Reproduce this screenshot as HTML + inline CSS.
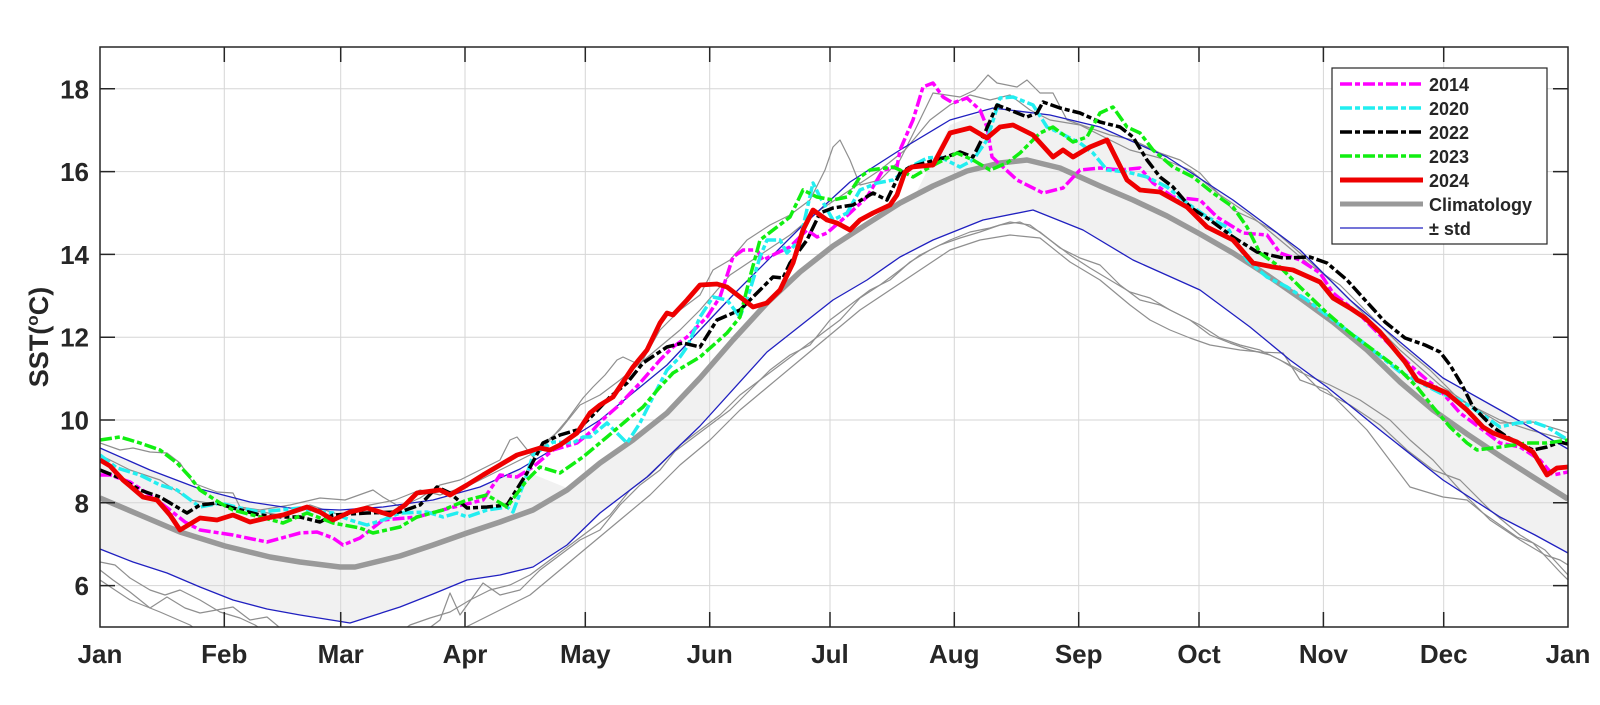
<!DOCTYPE html>
<html><head><meta charset="utf-8"><style>
html,body{margin:0;padding:0;background:#fff;}
svg{display:block;}
text{font-family:"Liberation Sans",Arial,sans-serif;font-weight:bold;fill:#262626;}
</style></head><body>
<svg width="1600" height="705" viewBox="0 0 1600 705" xmlns="http://www.w3.org/2000/svg">
<defs><clipPath id="pa"><rect x="100" y="47" width="1468" height="580"/></clipPath></defs>
<rect width="1600" height="705" fill="#fff"/>
<g clip-path="url(#pa)">
<polygon fill="#f1f1f1" points="100,549 133,562 167,573 200,587 233,600 267,609 300,615 350,623 400,607 433,594 467,580 500,575 533,567 567,545 600,513 647,477 700,426 767,352 833,300 867,280 900,257 933,240 983,220 1033,210 1083,230 1133,260 1200,290 1250,327 1290,360 1327,387 1380,430 1443,480 1500,517 1535,535 1568,553 1568,449 1535,430 1500,410 1443,378 1400,342 1350,300 1300,250 1233,200 1167,157 1100,127 1050,115 993,108 950,125 915,195 900,203 867,224 833,246 800,272 767,303 733,340 700,378 667,413 633,440 600,463 567,488 520,469 480,487 433,500 383,507 340,510 290,508 250,502 200,489 150,470 100,448"/>
<g stroke="#d6d6d6" stroke-width="1" fill="none">
<line x1="224.3" y1="47" x2="224.3" y2="627"/><line x1="340.7" y1="47" x2="340.7" y2="627"/><line x1="465" y1="47" x2="465" y2="627"/><line x1="585.3" y1="47" x2="585.3" y2="627"/><line x1="709.7" y1="47" x2="709.7" y2="627"/><line x1="830" y1="47" x2="830" y2="627"/><line x1="954.3" y1="47" x2="954.3" y2="627"/><line x1="1078.7" y1="47" x2="1078.7" y2="627"/><line x1="1199" y1="47" x2="1199" y2="627"/><line x1="1323.4" y1="47" x2="1323.4" y2="627"/><line x1="1443.7" y1="47" x2="1443.7" y2="627"/>
<line x1="100" y1="88.8" x2="1568" y2="88.8"/><line x1="100" y1="171.6" x2="1568" y2="171.6"/><line x1="100" y1="254.4" x2="1568" y2="254.4"/><line x1="100" y1="337.2" x2="1568" y2="337.2"/><line x1="100" y1="420" x2="1568" y2="420"/><line x1="100" y1="502.8" x2="1568" y2="502.8"/><line x1="100" y1="585.6" x2="1568" y2="585.6"/>
</g>
<g stroke="#8f8f8f" stroke-width="1.2" fill="none" stroke-linejoin="round">
<polyline points="100,443 120,450 133,448 150,452 167,453 180,463 193,483 217,492 233,493 240,507 260,510 290,505 320,498 345,500 373,490 383,497 400,507 420,498 440,485 460,480 480,470 500,460 510,440 517,437 533,457 550,440 567,420 583,398 593,387 605,375 617,360 623,357 640,365 660,330 680,310 700,295 713,270 730,260 747,240 770,225 790,215 810,200 825,170 833,147 840,140 850,160 860,185 880,180 900,160 915,130 933,93 960,97 975,90 988,75 997,83 1017,87 1027,80 1040,93 1053,93 1067,120 1087,127 1110,135 1133,140 1160,153 1180,160 1200,173 1233,210 1255,220 1277,233 1300,253 1330,280 1360,310 1400,350 1440,385 1470,405 1500,423 1533,422 1560,430 1568,433"/>
<polyline points="100,455 130,470 160,480 190,500 220,505 250,510 280,515 310,505 340,515 370,505 395,500 420,490 440,495 470,485 500,470 530,455 560,430 580,405 600,395 620,380 650,355 680,330 700,310 730,275 760,255 790,235 820,210 850,190 880,170 905,150 930,120 950,105 970,95 990,100 1010,95 1030,110 1050,120 1080,125 1100,135 1130,150 1160,158 1190,170 1220,195 1250,215 1280,240 1310,265 1340,285 1370,315 1400,345 1430,370 1460,400 1500,420 1530,430 1568,440"/>
<polyline points="100,562 115,565 130,578 150,590 165,595 180,590 200,600 220,612 240,618 255,625 270,635 390,640 410,625 430,618 450,612 470,600 490,590 510,585 530,575 550,560 570,545 590,530 610,515 630,490 650,475 670,455 690,440 710,425 730,410 750,390 770,370 790,355 810,345 830,320 850,305 870,290 890,280 910,262 930,250 950,240 970,232 990,228 1010,222 1030,225 1050,240 1070,255 1090,268 1110,280 1130,292 1150,298 1170,310 1190,320 1210,335 1230,343 1250,350 1270,355 1300,370 1320,390 1350,405 1380,425 1407,450 1433,470 1460,480 1490,510 1520,535 1545,550 1568,575"/>
<polyline points="100,570 113,580 130,592 150,608 167,597 185,608 200,613 233,607 250,620 267,617 285,632 420,635 440,620 450,593 460,615 483,583 500,595 520,590 540,570 560,555 580,540 600,530 620,505 640,485 660,470 680,445 700,430 720,415 740,395 760,380 780,365 800,350 820,335 840,320 860,298 880,285 900,270 920,255 940,245 960,238 980,232 1000,225 1020,222 1040,232 1060,248 1080,258 1100,265 1120,285 1140,300 1160,305 1180,315 1200,325 1220,338 1240,345 1260,350 1280,360 1300,372 1330,385 1360,400 1390,420 1410,440 1433,460 1460,490 1490,520 1520,540 1545,555 1560,560 1568,565"/>
<polyline points="100,580 130,600 160,612 190,625 210,640 440,640 470,625 490,615 510,605 530,595 560,570 590,545 620,520 650,495 680,465 710,440 740,410 770,385 800,360 830,335 860,310 890,290 920,270 950,250 980,240 1010,235 1040,238 1070,262 1100,280 1130,305 1150,320 1170,330 1190,338 1210,345 1240,350 1260,352 1283,353 1300,380 1327,390 1350,413 1367,430 1410,487 1443,497 1467,500 1483,513 1517,537 1533,543 1560,572 1568,580"/>
</g>
<g stroke="#2020c0" stroke-width="1.3" fill="none" stroke-linejoin="round">
<polyline points="100,448 150,470 200,489 250,502 290,508 340,510 383,507 433,500 480,487 520,469 560,445 600,420 667,365 733,295 800,228 850,182 900,150 950,120 993,108 1050,115 1100,127 1167,157 1233,200 1300,250 1350,300 1400,342 1443,378 1500,410 1535,430 1568,449"/>
<polyline points="100,549 133,562 167,573 200,587 233,600 267,609 300,615 350,623 400,607 433,594 467,580 500,575 533,567 567,545 600,513 647,477 700,426 767,352 833,300 867,280 900,257 933,240 983,220 1033,210 1083,230 1133,260 1200,290 1250,327 1290,360 1327,387 1380,430 1443,480 1500,517 1535,535 1568,553"/>
</g>
<polyline fill="none" stroke="#999" stroke-width="5.5" stroke-linejoin="round" points="100,498 140,515 180,532 225,546 270,557 300,562 340,567 355,567 400,556 433,545 467,533 500,522 533,510 567,490 600,463 633,440 667,413 700,378 733,340 767,303 800,272 833,246 867,224 900,203 933,186 967,171 1000,163 1027,160 1060,168 1100,186 1133,200 1167,216 1200,234 1233,253 1267,275 1300,298 1333,322 1367,350 1400,382 1433,410 1467,434 1500,456 1533,477 1568,499"/>
<g fill="none" stroke-width="3.5" stroke-linejoin="round" stroke-dasharray="12 3 5 3">
<polyline stroke="#ff00ff" points="100,475 110,475 130,482 150,495 170,510 185,522 200,530 233,535 267,542 300,533 317,532 333,538 343,545 360,538 383,520 417,517 450,508 483,500 500,475 517,477 533,467 553,450 577,443 593,430 600,422 617,407 640,383 660,360 673,347 687,337 707,317 720,297 733,257 743,250 757,250 763,260 777,253 790,247 807,230 817,237 827,233 850,213 867,197 883,170 897,167 900,150 913,120 923,87 933,83 943,97 953,103 967,98 980,110 987,127 992,157 1003,167 1017,180 1043,193 1063,188 1080,170 1100,168 1120,170 1140,168 1153,183 1173,197 1200,200 1217,217 1243,233 1267,235 1280,253 1300,260 1320,273 1333,293 1360,315 1390,345 1410,365 1427,380 1440,390 1460,413 1483,430 1500,443 1520,447 1540,460 1553,475 1568,472"/>
<polyline stroke="#22eef0" points="100,455 117,468 140,475 160,485 177,490 200,507 220,503 240,508 260,512 280,510 300,508 320,512 333,513 350,520 367,525 383,520 400,513 427,512 443,517 457,513 467,517 487,510 507,507 513,512 525,480 533,455 553,442 573,443 583,437 590,437 607,423 627,443 640,423 653,397 667,370 680,357 687,347 700,317 713,297 727,300 740,317 750,290 760,257 767,240 780,240 787,253 800,240 813,183 820,197 833,220 847,213 860,190 877,183 893,180 910,167 927,158 940,157 960,167 973,160 987,140 1000,98 1013,97 1033,105 1047,127 1060,133 1080,143 1093,153 1107,170 1127,172 1147,177 1167,187 1187,203 1207,217 1227,227 1247,260 1267,277 1287,287 1307,300 1333,320 1360,340 1400,372 1440,393 1460,400 1480,413 1500,427 1517,423 1533,422 1547,427 1568,440"/>
<polyline stroke="#000" points="100,470 120,478 140,490 160,497 187,513 200,505 217,503 233,508 260,515 283,517 300,517 320,522 333,515 367,513 400,512 420,505 437,487 450,493 467,508 487,507 507,505 527,473 543,443 560,435 577,430 590,418 610,397 627,383 643,363 667,347 683,343 700,347 717,320 740,310 757,293 773,277 783,278 790,263 807,240 820,213 833,208 853,205 873,193 887,200 900,173 910,167 943,158 960,152 973,157 983,137 997,105 1010,110 1027,117 1037,113 1043,102 1060,108 1080,113 1100,122 1120,127 1133,137 1147,160 1160,177 1173,187 1190,207 1210,220 1233,237 1257,252 1283,258 1310,257 1327,263 1347,280 1365,300 1385,322 1405,338 1425,345 1440,352 1450,365 1462,385 1473,407 1493,427 1507,437 1533,450 1547,447 1560,442 1568,444"/>
<polyline stroke="#11ee11" points="100,440 120,437 140,443 160,450 177,463 190,477 200,490 220,503 233,510 260,517 283,523 307,513 333,523 360,528 373,533 400,527 417,517 443,510 467,500 487,495 507,507 527,480 540,467 560,473 583,457 607,437 627,420 643,407 660,387 673,373 700,357 727,333 740,317 750,277 760,240 777,227 790,217 803,190 817,197 833,200 847,197 860,177 870,170 893,167 900,170 913,177 930,167 957,153 973,160 990,170 1007,163 1020,153 1040,133 1053,127 1073,142 1087,137 1100,113 1113,107 1127,127 1140,133 1153,150 1173,167 1193,177 1213,193 1233,207 1247,227 1260,253 1280,267 1300,287 1327,313 1350,333 1380,355 1400,370 1417,387 1433,407 1450,427 1467,443 1477,450 1500,447 1527,443 1547,443 1568,440"/>
</g>
<polyline fill="none" stroke="#ee0000" stroke-width="4.8" stroke-linejoin="round" points="100,460 110,466 123,480 143,497 157,500 170,515 180,530 190,524 200,518 217,520 233,515 250,522 267,518 283,515 307,507 320,512 333,520 350,512 367,508 390,515 405,505 417,493 440,490 450,495 467,485 483,475 500,465 517,455 527,452 540,448 550,450 560,445 577,433 590,413 600,405 613,397 633,367 647,350 660,323 667,313 673,315 687,300 700,285 717,284 727,287 740,297 753,307 767,303 780,290 793,263 803,230 813,210 827,220 837,223 850,230 860,220 873,213 890,205 897,195 905,172 912,167 933,165 950,133 970,128 987,138 1000,127 1013,125 1033,135 1053,157 1063,150 1073,157 1090,147 1107,140 1127,180 1140,190 1160,192 1187,207 1207,227 1233,240 1253,263 1273,267 1293,270 1320,282 1333,298 1350,308 1365,318 1380,332 1395,350 1405,362 1417,380 1433,387 1447,393 1467,410 1483,427 1493,433 1517,442 1533,452 1547,475 1557,468 1568,467"/>
</g>
<g stroke="#262626" stroke-width="1.5" fill="none">
<rect x="100" y="47" width="1468" height="580"/>
<path d="M100,88.8h15M100,171.6h15M100,254.4h15M100,337.2h15M100,420h15M100,502.8h15M100,585.6h15M1568,88.8h-15M1568,171.6h-15M1568,254.4h-15M1568,337.2h-15M1568,420h-15M1568,502.8h-15M1568,585.6h-15"/>
<path d="M224.3,627v-15M340.7,627v-15M465,627v-15M585.3,627v-15M709.7,627v-15M830,627v-15M954.3,627v-15M1078.7,627v-15M1199,627v-15M1323.4,627v-15M1443.7,627v-15M224.3,47v15M340.7,47v15M465,47v15M585.3,47v15M709.7,47v15M830,47v15M954.3,47v15M1078.7,47v15M1199,47v15M1323.4,47v15M1443.7,47v15"/>
</g>
<g font-size="26" text-anchor="end">
<text x="89" y="98.3">18</text><text x="89" y="181.1">16</text><text x="89" y="263.9">14</text><text x="89" y="346.7">12</text><text x="89" y="429.5">10</text><text x="89" y="512.3">8</text><text x="89" y="595.1">6</text>
</g>
<g font-size="26" text-anchor="middle">
<text x="100" y="663">Jan</text><text x="224.3" y="663">Feb</text><text x="340.7" y="663">Mar</text><text x="465" y="663">Apr</text><text x="585.3" y="663">May</text><text x="709.7" y="663">Jun</text><text x="830" y="663">Jul</text><text x="954.3" y="663">Aug</text><text x="1078.7" y="663">Sep</text><text x="1199" y="663">Oct</text><text x="1323.4" y="663">Nov</text><text x="1443.7" y="663">Dec</text><text x="1568" y="663">Jan</text>
</g>
<text font-size="27" text-anchor="middle" transform="translate(48,337) rotate(-90)">SST(<tspan dy="-10" font-size="17">o</tspan><tspan dy="10">C)</tspan></text>
<rect x="1332" y="68" width="215" height="176" fill="#fff" stroke="#262626" stroke-width="1.2"/>
<g fill="none">
<line x1="1340" y1="84" x2="1423" y2="84" stroke="#ff00ff" stroke-width="3.5" stroke-dasharray="12 3 5 3"/>
<line x1="1340" y1="108" x2="1423" y2="108" stroke="#22eef0" stroke-width="3.5" stroke-dasharray="12 3 5 3"/>
<line x1="1340" y1="132" x2="1423" y2="132" stroke="#000" stroke-width="3.5" stroke-dasharray="12 3 5 3"/>
<line x1="1340" y1="156" x2="1423" y2="156" stroke="#11ee11" stroke-width="3.5" stroke-dasharray="12 3 5 3"/>
<line x1="1340" y1="180" x2="1423" y2="180" stroke="#ee0000" stroke-width="5"/>
<line x1="1340" y1="204" x2="1423" y2="204" stroke="#999" stroke-width="5"/>
<line x1="1340" y1="228" x2="1423" y2="228" stroke="#2020c0" stroke-width="1.3"/>
</g>
<g font-size="18">
<text x="1429" y="91">2014</text><text x="1429" y="115">2020</text><text x="1429" y="139">2022</text><text x="1429" y="163">2023</text><text x="1429" y="187">2024</text><text x="1429" y="211">Climatology</text><text x="1429" y="235">± std</text>
</g>
</svg>
</body></html>
